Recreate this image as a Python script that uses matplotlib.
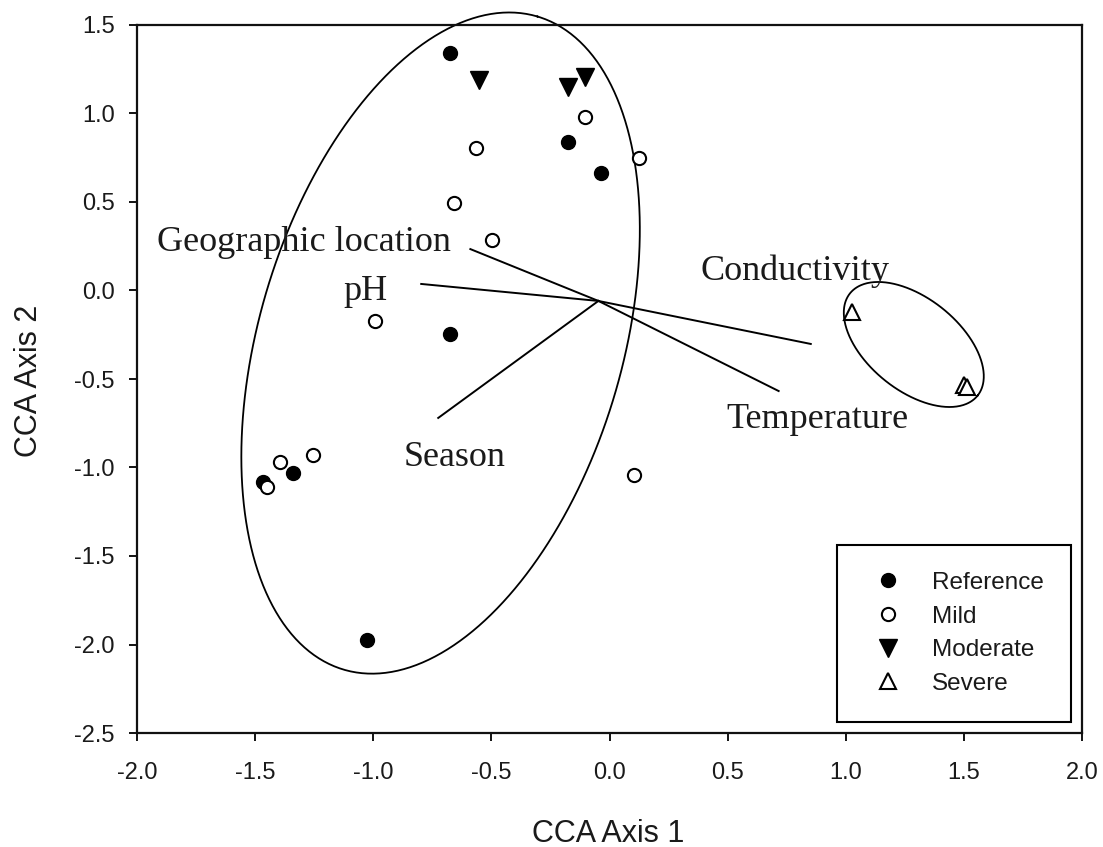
import numpy as np
import matplotlib
matplotlib.use("Agg")
import matplotlib.pyplot as plt

plt.rcParams['axes.unicode_minus'] = False

# ---------------------
# Site scores (CCA axis 1, axis 2)
# ---------------------
ref_x = [-0.674, -0.174, -0.034, -0.674, -1.466, -1.339, -1.025]
ref_y = [1.342, 0.839, 0.664, -0.246, -1.082, -1.031, -1.975]

mild_x = [-0.102, -0.564, 0.123, -0.657, -0.496, -0.992, -1.394, -1.449, -1.254, 0.102]
mild_y = [0.980, 0.805, 0.748, 0.494, 0.285, -0.172, -0.969, -1.110, -0.929, -1.042]

mod_x = [-0.551, -0.174, -0.102]
mod_y = [1.189, 1.150, 1.206]

sev_x = [1.025, 1.500, 1.513]
sev_y = [-0.121, -0.534, -0.545]

# ---------------------
# Environmental vectors
# ---------------------
env_names = ["Geographic location", "pH", "Season", "Conductivity", "Temperature"]
env_origin = (-0.047, -0.059)
env_x = [-0.589, -0.797, -0.725, 0.852, 0.716]
env_y = [0.234, 0.037, -0.720, -0.302, -0.568]
label_x = [-1.915, -1.127, -0.873, 0.386, 0.496]
label_y = [0.223, -0.054, -0.992, 0.059, -0.777]

# ---------------------
# Group ellipses: centre, two conjugate semi-axis vectors
# ---------------------
ell_centers = [(-0.715, -0.297), (1.288, -0.305)]
ell_major = [(0.410, 1.845), (0.270, -0.289)]
ell_minor = [(-0.737, 0.291), (0.122, 0.203)]

xticks = np.arange(-2.0, 2.01, 0.5)
yticks = np.arange(-2.5, 1.51, 0.5)

# =====================
# Plot
# =====================
W, H = 1103, 847
fig = plt.figure(figsize=(W / 100, H / 100), dpi=100)
ax = fig.add_axes([137 / W, (H - 733) / H, 945 / W, 708 / H])

sans = "Liberation Sans"
serif = "Liberation Serif"
txt_col = "#1a1a1a"

# environmental vectors
for ex, ey in zip(env_x, env_y):
    ax.plot([env_origin[0], ex], [env_origin[1], ey], color="black", lw=1.4, zorder=2)
for name, lx, ly in zip(env_names, label_x, label_y):
    ax.text(lx, ly, name, family=serif, fontsize=26, color=txt_col,
            ha="left", va="baseline")

# ellipses
t = np.linspace(0, 2 * np.pi, 400)
for (cx, cy), (ux, uy), (vx, vy) in zip(ell_centers, ell_major, ell_minor):
    ax.plot(cx + ux * np.cos(t) + vx * np.sin(t),
            cy + uy * np.cos(t) + vy * np.sin(t),
            color="black", lw=1.3, clip_on=False, zorder=2)

# points
ax.plot(ref_x, ref_y, "o", ms=10, color="black", ls="none", label="Reference", zorder=3)
ax.plot(mild_x, mild_y, "o", ms=9.5, mfc="white", mec="black", mew=1.5, ls="none",
        label="Mild", zorder=3)
ax.plot(mod_x, mod_y, "v", ms=13, color="black", ls="none", label="Moderate", zorder=3)
ax.plot(sev_x, sev_y, "^", ms=11, mfc="white", mec="black", mew=1.5, ls="none",
        label="Severe", zorder=3)

ax.set_xlim(-2.0, 2.0)
ax.set_ylim(-2.5, 1.5)
ax.set_xticks(xticks)
ax.set_yticks(yticks)
ax.set_xticklabels(["%.1f" % v for v in xticks])
ax.set_yticklabels(["%.1f" % v for v in yticks])
ax.tick_params(direction="out", length=6, width=1.3, colors="black", labelcolor=txt_col,
               labelsize=17, top=False, right=False)
ax.tick_params(axis="x", pad=15)
ax.tick_params(axis="y", pad=10)
for lbl in ax.get_xticklabels() + ax.get_yticklabels():
    lbl.set_family(sans)
for sp in ax.spines.values():
    sp.set_linewidth(1.6)
    sp.set_color("#111111")

fig.text(608 / W, 1 - 842 / H, "CCA Axis 1", family=sans, fontsize=22, color=txt_col,
         ha="center", va="baseline")
fig.text(29 / W, 1 - 381 / H, "CCA Axis 2", family=sans, fontsize=22, color=txt_col,
         ha="center", va="center", rotation=90)

leg = ax.legend(loc="lower right", bbox_to_anchor=(0.988, 0.016), borderaxespad=0,
                prop={"family": sans, "size": 17.5}, frameon=True, fancybox=False,
                edgecolor="black", framealpha=1, numpoints=1, handlelength=1.95,
                handletextpad=0.85, borderpad=1.1, labelspacing=0.48)
leg.get_frame().set_linewidth(1.5)
for t_ in leg.get_texts():
    t_.set_color(txt_col)

fig.savefig("out.png", dpi=100)
